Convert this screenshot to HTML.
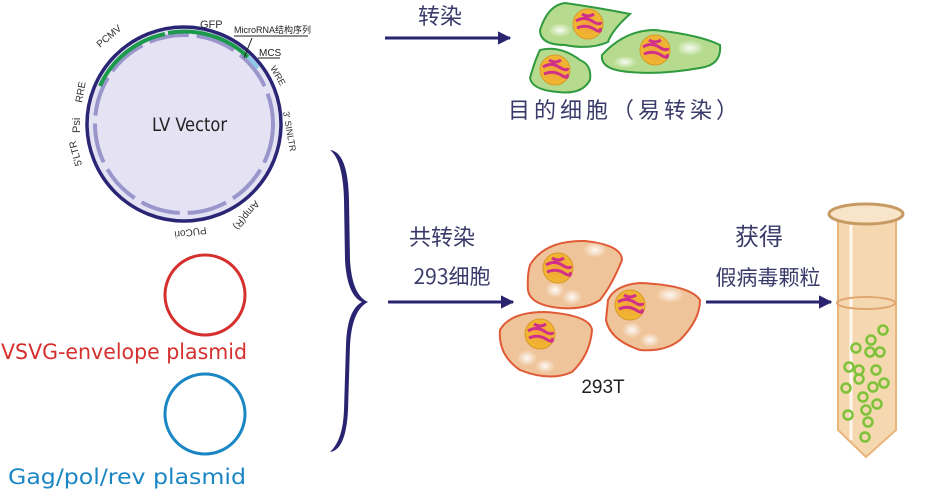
<!DOCTYPE html>
<html><head><meta charset="utf-8"><style>
html,body{margin:0;padding:0;background:#fff;}
svg{display:block;}
text{font-family:"Liberation Sans","Noto Sans CJK SC",sans-serif;}
.cn{font-family:"Noto Sans CJK SC",sans-serif;fill:#3a3a6a;}
.cd{font-family:"DejaVu Sans Condensed","DejaVu Sans",sans-serif;}
</style></head><body>
<svg width="952" height="504" viewBox="0 0 952 504" xmlns="http://www.w3.org/2000/svg">
<defs>
<radialGradient id="nuc" cx="50%" cy="50%" r="50%"><stop offset="0" stop-color="#f2a23a"/><stop offset="1" stop-color="#f0b830"/></radialGradient>
<radialGradient id="hl" cx="50%" cy="50%" r="50%"><stop offset="0" stop-color="#fff" stop-opacity="0.9"/><stop offset="1" stop-color="#fff" stop-opacity="0"/></radialGradient>
<g id="nucleus"><circle r="15" fill="url(#nuc)" stroke="#d8982a" stroke-width="1"/><path d="M-12,-3 Q-4,-8 4,-3 T13,-2 M-11,4 Q-2,0 6,5 T12,4 M-6,-10 Q0,-6 6,-10" stroke="#d0308a" stroke-width="3" fill="none"/></g>
<marker id="ah" viewBox="0 0 10 10" refX="9" refY="5" markerWidth="4.5" markerHeight="4.5" orient="auto"><path d="M0,0L10,5L0,10z" fill="#2a2470"/></marker>
</defs>

<!-- LV vector -->
<circle cx="184" cy="124" r="97" fill="#e4e2f3" stroke="#2b2575" stroke-width="3.5"/>
<circle cx="184" cy="124" r="89" fill="none" stroke="#9a96cc" stroke-width="4" stroke-dasharray="40 8"/>
<path d="M100,86 A92,92 0 0 1 165,34" fill="none" stroke="#1a9a4a" stroke-width="4"/>
<path d="M168,33 A92,92 0 0 1 248,57" fill="none" stroke="#1a9a4a" stroke-width="4"/>
<path d="M248,57 A92,92 0 0 1 258,68" fill="none" stroke="#8cc8e8" stroke-width="4"/>
<text x="152" y="131" font-size="19" fill="#222" class="cd" textLength="75" lengthAdjust="spacingAndGlyphs">LV Vector</text>
<text x="200" y="28" font-size="11" fill="#333">GFP</text>
<text x="234" y="33" font-size="9" fill="#222">MicroRNA结构序列</text>
<line x1="234" y1="36" x2="308" y2="36" stroke="#222" stroke-width="1"/>
<line x1="252" y1="38" x2="244" y2="58" stroke="#222"/>
<text x="259" y="56" font-size="10" fill="#222">MCS</text>
<line x1="258" y1="58" x2="280" y2="58" stroke="#222"/>
<text x="100" y="48" font-size="10" fill="#333" transform="rotate(-40 100 48)">PCMV</text>
<text x="82" y="103" font-size="10" fill="#333" transform="rotate(-80 82 103)">RRE</text>
<text x="80" y="133" font-size="11" fill="#333" transform="rotate(-90 80 133)">Psi</text>
<text x="82" y="165" font-size="10" fill="#333" transform="rotate(-105 82 165)">5'LTR</text>
<text x="270" y="68" font-size="9" fill="#333" transform="rotate(60 270 68)">WRE</text>
<text x="283" y="112" font-size="9" fill="#333" transform="rotate(80 283 112)">3' SINLTR</text>
<text x="255" y="200" font-size="10" fill="#333" transform="rotate(130 255 200)">Amp(R)</text>
<text x="206" y="227" font-size="10" fill="#333" transform="rotate(172 206 227)">PUCori</text>

<!-- helper plasmids -->
<circle cx="205" cy="295" r="40" fill="none" stroke="#d5302e" stroke-width="3"/>
<text x="1" y="359" font-size="21" class="cd" fill="#d5302e" textLength="246" lengthAdjust="spacingAndGlyphs">VSVG-envelope plasmid</text>
<circle cx="205" cy="414" r="40" fill="none" stroke="#1a86c4" stroke-width="3"/>
<text x="8" y="484" font-size="21" class="cd" fill="#1a86c4" textLength="238" lengthAdjust="spacingAndGlyphs">Gag/pol/rev plasmid</text>

<!-- brace -->
<path d="M330,150 Q348,152 349,200 L350,260 Q352,295 368,302 Q352,310 350,345 L348,410 Q346,450 330,452 Q343,440 344,410 L346,345 Q347,310 362,302 Q347,295 345,260 L344,200 Q343,160 330,150z" fill="#2a2470"/>

<!-- arrows -->
<line x1="385" y1="38" x2="510" y2="38" stroke="#2a2470" stroke-width="3" marker-end="url(#ah)"/>
<line x1="388" y1="302" x2="513" y2="302" stroke="#2a2470" stroke-width="3" marker-end="url(#ah)"/>
<line x1="706" y1="302" x2="831" y2="302" stroke="#2a2470" stroke-width="3" marker-end="url(#ah)"/>
<text x="440" y="24" font-size="22" class="cn" text-anchor="middle">转染</text>
<text x="625" y="118" font-size="22" class="cn" text-anchor="middle" letter-spacing="4">目的细胞（易转染）</text>
<text x="442" y="245" font-size="22" class="cn" text-anchor="middle">共转染</text>
<text x="452" y="284" font-size="21" class="cn" text-anchor="middle">293细胞</text>
<text x="759" y="245" font-size="24" class="cn" text-anchor="middle">获得</text>
<text x="768" y="285" font-size="21" class="cn" text-anchor="middle">假病毒颗粒</text>

<!-- green cells -->
<g fill="#b6db8e" stroke="#2f9a3e" stroke-width="2">
<path d="M540,30 Q548,5 565,3 Q600,8 630,14 Q612,30 608,42 Q590,50 565,45 Q540,45 540,30z"/>
<path d="M540,50 Q560,45 580,60 Q592,65 590,80 Q582,95 558,92 Q532,90 530,78 Q535,60 540,50z"/>
<path d="M602,55 Q625,30 655,30 Q700,35 720,45 Q722,65 700,68 Q660,75 630,72 Q600,70 602,55z"/>
</g>
<ellipse cx="560" cy="30" rx="12" ry="7" fill="url(#hl)"/><ellipse cx="690" cy="48" rx="14" ry="8" fill="url(#hl)"/><ellipse cx="625" cy="62" rx="12" ry="6" fill="url(#hl)"/>
<use href="#nucleus" x="588" y="24"/><use href="#nucleus" x="555" y="70"/><use href="#nucleus" x="655" y="50"/>

<!-- orange cells -->
<g fill="#efc49a" stroke="#e05a35" stroke-width="2">
<path d="M530,265 Q545,240 585,241 Q622,245 622,260 Q612,285 600,300 Q585,310 560,308 Q530,305 528,290 Q527,275 530,265z"/>
<path d="M500,330 Q510,312 545,312 Q590,315 592,330 Q590,355 572,372 Q550,382 520,370 Q498,355 500,330z"/>
<path d="M608,300 Q615,285 640,283 Q690,285 700,300 Q700,320 680,340 Q665,352 640,350 Q610,340 606,320z"/>
</g>
<g fill="url(#hl)"><ellipse cx="555" cy="290" rx="10" ry="8"/><ellipse cx="572" cy="297" rx="10" ry="8"/><ellipse cx="595" cy="250" rx="12" ry="8"/>
<ellipse cx="527" cy="358" rx="10" ry="8"/><ellipse cx="545" cy="366" rx="10" ry="7"/><ellipse cx="632" cy="330" rx="10" ry="8"/><ellipse cx="650" cy="340" rx="10" ry="7"/><ellipse cx="670" cy="295" rx="14" ry="8"/></g>
<use href="#nucleus" x="558" y="268"/><use href="#nucleus" x="540" y="334"/><use href="#nucleus" x="630" y="305"/>
<text x="603" y="393" font-size="19" text-anchor="middle" fill="#222">293T</text>

<!-- tube -->
<path d="M838,215 L838,430 L866,457 L896,430 L896,215z" fill="#f6d8b0" stroke="#eab57a" stroke-width="2"/>
<line x1="851" y1="225" x2="851" y2="440" stroke="#fff" stroke-width="3" opacity="0.8"/>
<ellipse cx="866" cy="214" rx="37" ry="10" fill="#f8e4c8" stroke="#c79a63" stroke-width="3"/>
<ellipse cx="866" cy="303" rx="29" ry="6" fill="none" stroke="#e0a870" stroke-width="2"/>
<g fill="none" stroke="#7ec23a" stroke-width="2.5">
<circle cx="883" cy="330" r="4.5"/><circle cx="871" cy="340" r="4.5"/><circle cx="856" cy="348" r="4.5"/>
<circle cx="870" cy="352" r="4.5"/><circle cx="880" cy="352" r="4.5"/><circle cx="849" cy="367" r="4.5"/>
<circle cx="859" cy="370" r="4.5"/><circle cx="876" cy="370" r="4.5"/><circle cx="859" cy="379" r="4.5"/>
<circle cx="884" cy="383" r="4.5"/><circle cx="873" cy="387" r="4.5"/><circle cx="846" cy="388" r="4.5"/>
<circle cx="863" cy="397" r="4.5"/><circle cx="877" cy="404" r="4.5"/><circle cx="866" cy="410" r="4.5"/>
<circle cx="848" cy="415" r="4.5"/><circle cx="868" cy="422" r="4.5"/><circle cx="865" cy="437" r="4.5"/>
</g>
</svg>
</body></html>
